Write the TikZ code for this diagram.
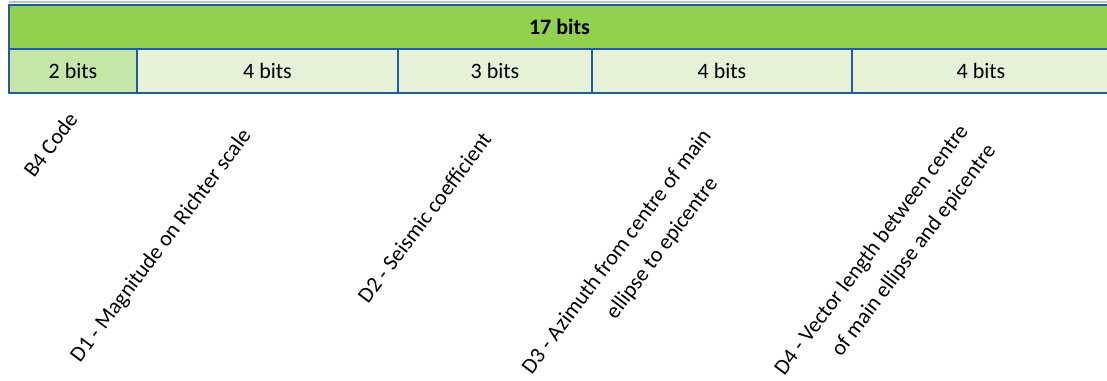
\documentclass[tikz,border=0pt]{standalone}
\usepackage{fontspec}
\setmainfont{Carlito}
\usetikzlibrary{positioning}
\definecolor{gridblue}{HTML}{245A9E}
\definecolor{headgreen}{HTML}{92D050}
\definecolor{codegreen}{HTML}{C6E5A8}
\definecolor{fieldgreen}{HTML}{E5F2D7}
\definecolor{paleline}{HTML}{B4C6E2}

\begin{document}
\begin{tikzpicture}[x=0.5pt,y=-0.5pt,
        cell/.style={rectangle,draw=gridblue,line width=1pt,fill=fieldgreen,minimum height=22pt,inner sep=0pt,outer sep=0pt,font=\fontsize{11}{13}\selectfont},
        total/.style={cell,fill=headgreen,font=\fontsize{11}{13}\selectfont\bfseries},
        field/.style={rotate=53,inner sep=0pt,align=center,font=\fontsize{11}{17}\selectfont}
    ]
    \useasboundingbox (0,0) rectangle (1107,380);
    \clip (0,0) rectangle (1107,380);
    \draw[paleline,line width=0.6pt] (9,2) -- (1107,2);

    \node[total,minimum width=550.5pt,anchor=north west] (bits) at (9,5) {17 bits};
    \node[cell,fill=codegreen,minimum width=64pt,anchor=north west] (b4) at (bits.south west) {2 bits};
    \node[cell,minimum width=130.5pt] (d1) [right=0pt of b4] {4 bits};
    \node[cell,minimum width=97pt] (d2) [right=0pt of d1] {3 bits};
    \node[cell,minimum width=130pt] (d3) [right=0pt of d2] {4 bits};
    \node[cell,minimum width=129pt] (d4) [right=0pt of d3] {4 bits};

    \node[field,anchor=base west] (code) at (34,179) {B4 Code};
    \node[field,anchor=base west] (magnitude) at (80,364) {D1 - Magnitude on Richter scale};
    \node[field,anchor=base west] (seismic) at (368,305) {D2 - Seismic coefficient};
    \node[field,anchor=north west] (azimuth) at (519,366) {D3 - Azimuth from centre of main\\\hspace*{30pt}ellipse to epicentre};
    \node[field,anchor=north west] (vector) at (771,368) {D4 - Vector length between centre\\\hspace*{25pt}of main ellipse and epicentre};
\end{tikzpicture}
\end{document}
